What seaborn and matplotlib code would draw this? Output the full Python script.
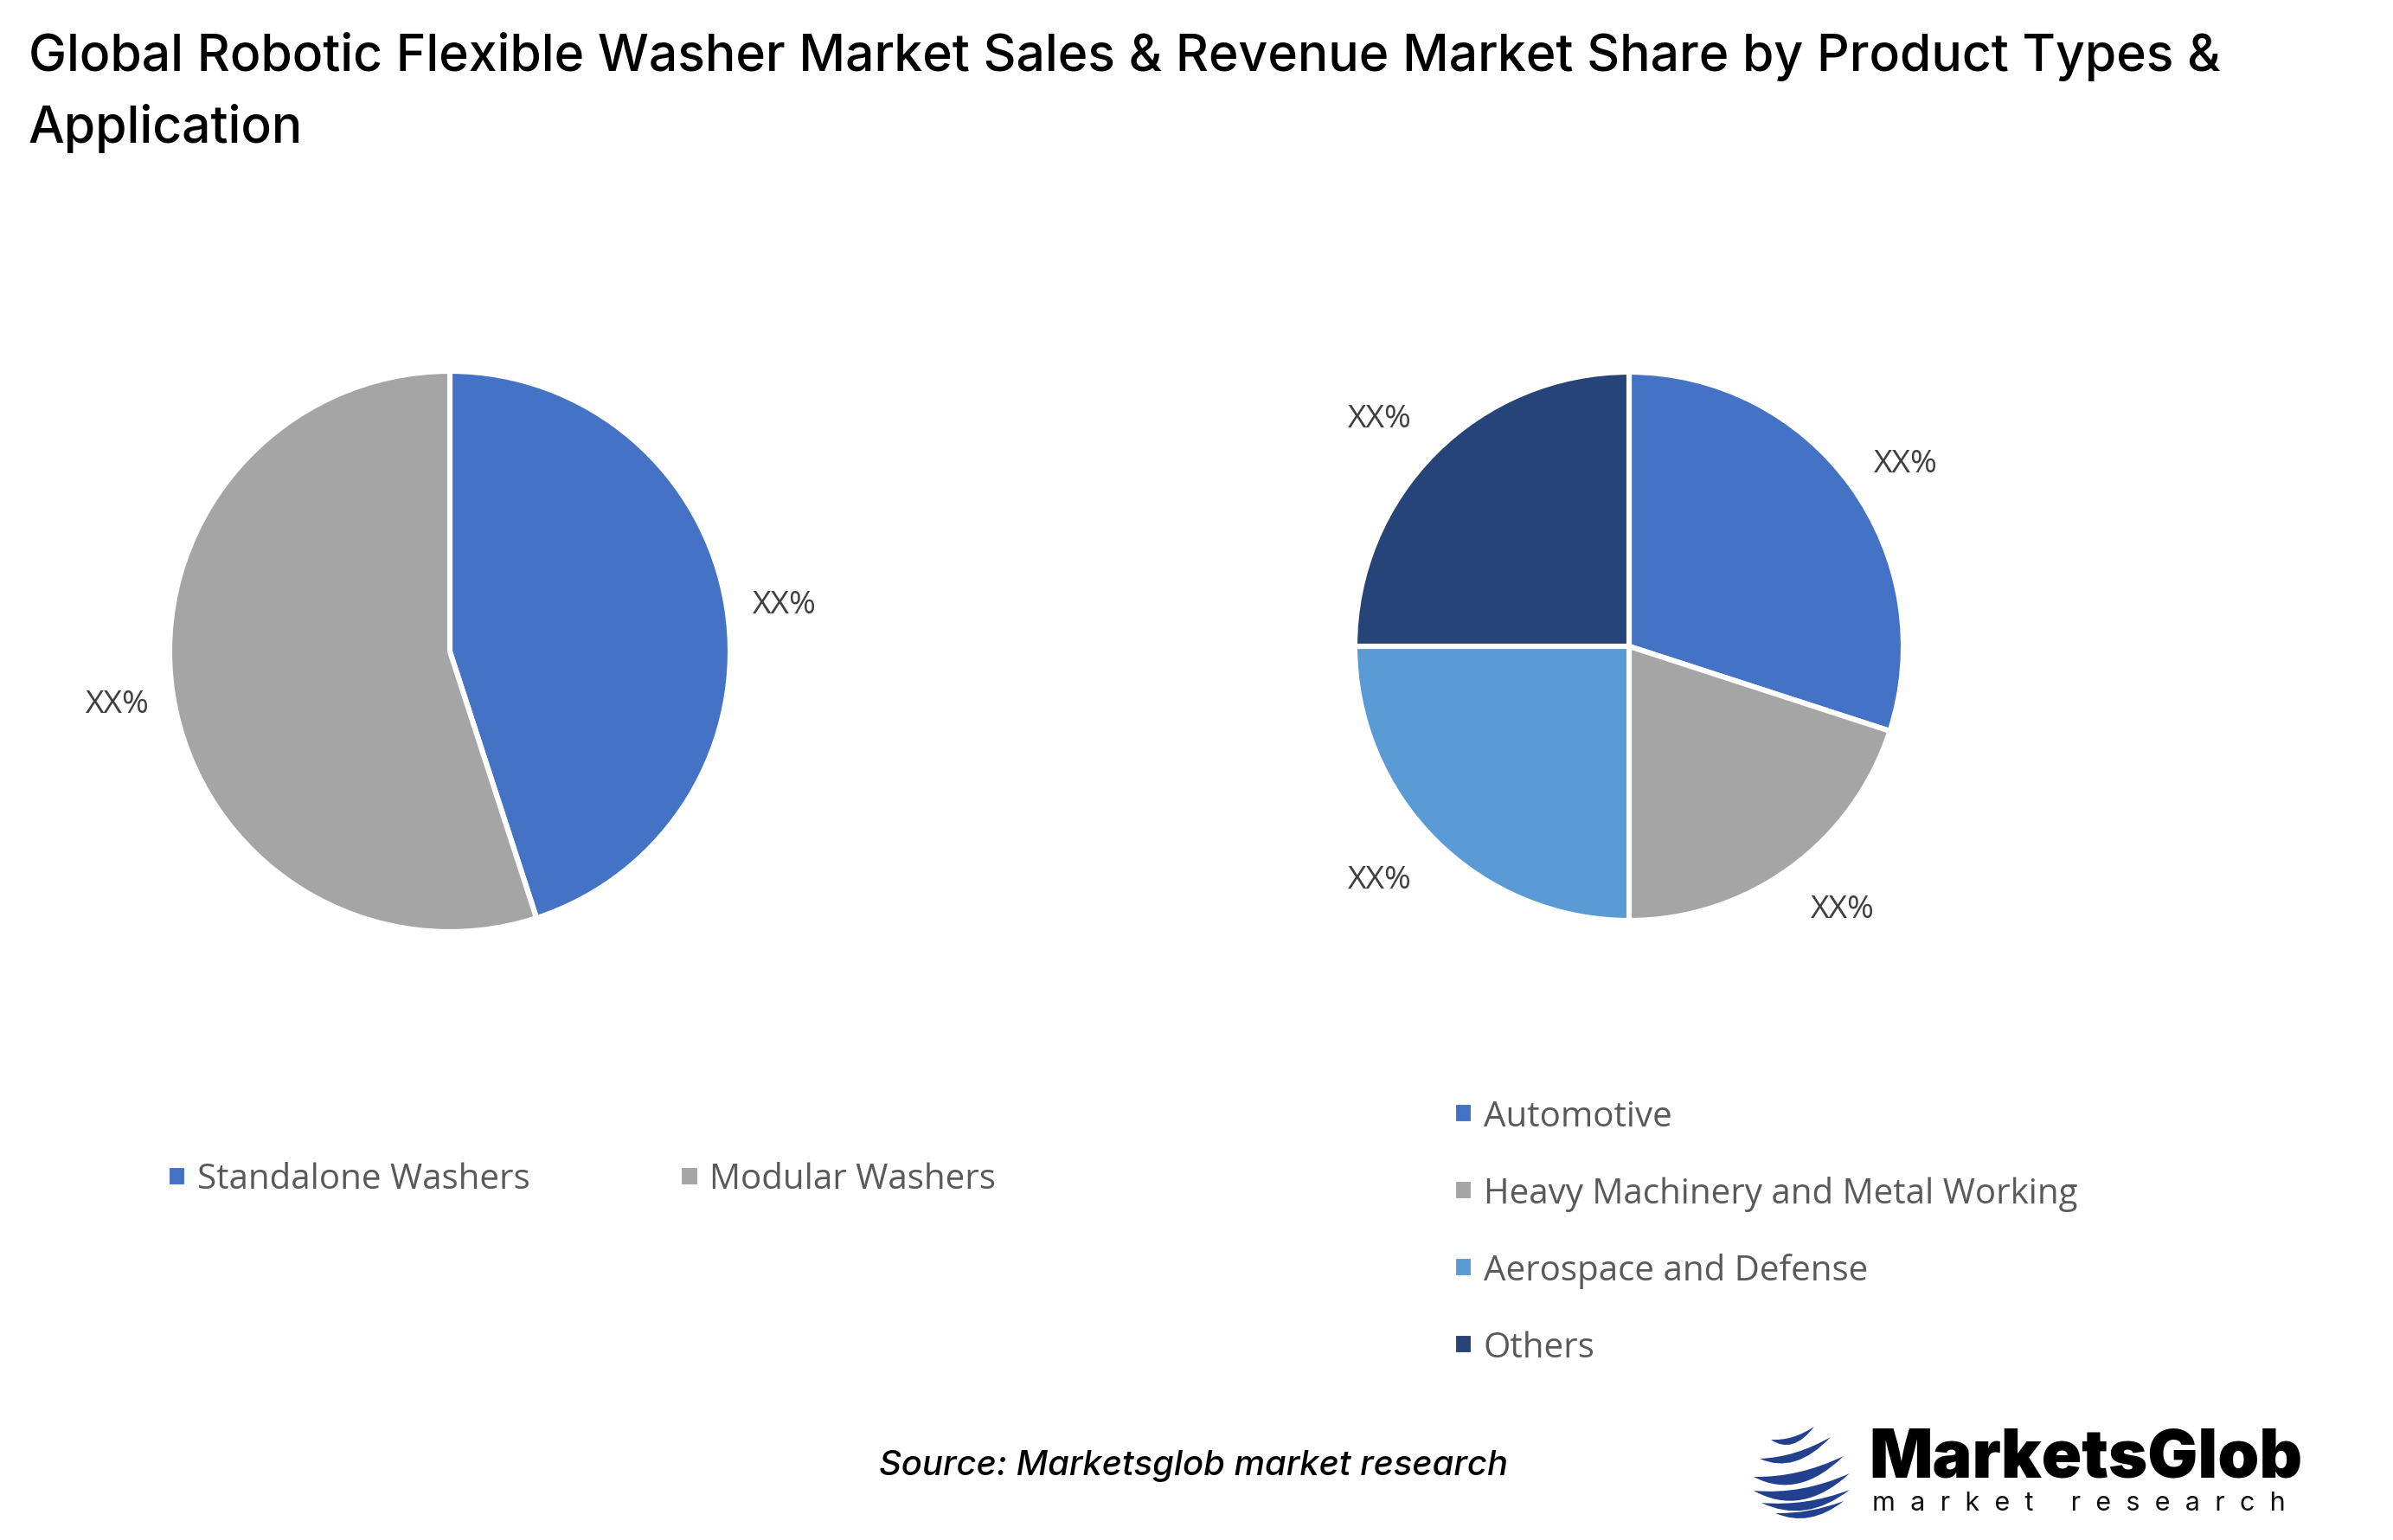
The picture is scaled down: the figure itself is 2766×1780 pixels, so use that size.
import matplotlib
matplotlib.use('Agg')
import matplotlib.pyplot as plt
from matplotlib.path import Path
from matplotlib.patches import PathPatch
import seaborn as sns

W, H = 2766, 1781
DPI = 200

title_text = 'Global Robotic Flexible Washer Market Sales & Revenue Market Share by Product Types &\nApplication'
source_text = 'Source: Marketsglob market research'

product_types = ['Standalone Washers', 'Modular Washers']
product_values = [45, 55]
product_colors = ['#4472C4', '#A5A5A5']

applications = ['Automotive', 'Heavy Machinery and Metal Working', 'Aerospace and Defense', 'Others']
application_values = [30, 20, 25, 25]
application_colors = ['#4472C4', '#A5A5A5', '#5B9BD5', '#264478']

LABEL_FONT = 'Open Sans'
TITLE_FONT = 'Inter'

sns.set_theme(style='white', rc={'figure.facecolor': 'white', 'savefig.facecolor': 'white'})
plt.rcParams['font.family'] = [LABEL_FONT, 'DejaVu Sans']


def pie_axes(fig, cx, cy, r):
    # pixel position -> figure fraction
    return fig.add_axes([(cx - r) / W, 1 - (cy + r) / H, 2 * r / W, 2 * r / H])


def draw_pie(ax, values, colors, dist, nudges):
    wedges, _, pct = ax.pie(values, colors=sns.color_palette(colors), startangle=90, counterclock=False,
                            autopct=lambda p: 'XX%', pctdistance=dist, radius=1,
                            wedgeprops={'edgecolor': 'white', 'linewidth': 2.2},
                            textprops={'fontsize': 13.4, 'color': '#404040'})
    ax.set_xlim(-1, 1)
    ax.set_ylim(-1, 1)
    # the labels in the original sit a little off the slice midlines
    for t, (dx, dy) in zip(pct, nudges):
        x, y = t.get_position()
        t.set_position((x + dx, y + dy))
        t.set_clip_on(False)
    return wedges


fig = plt.figure(figsize=(W / DPI, H / DPI), dpi=DPI)

ax1 = pie_axes(fig, 520, 754, 324)
wedges1 = draw_pie(ax1, product_values, product_colors, 1.21, [(0, -0.022), (0.008, 0)])

ax2 = pie_axes(fig, 1883, 748, 317)
wedges2 = draw_pie(ax2, application_values, application_colors, 1.22,
                   [(0.022, -0.05), (0.061, 0.028), (-0.045, 0.011), (-0.045, -0.034)])

legend_style = dict(frameon=False, fontsize=14.5, labelcolor='#595959', handlelength=0.58, handleheight=0.58,
                    handletextpad=0.28, borderpad=0, borderaxespad=0)

fig.legend(wedges1, product_types, loc='center left', bbox_to_anchor=(193 / W, 1 - 1364 / H), ncols=2,
           columnspacing=4.3, **legend_style)
fig.legend(wedges2, applications, loc='center left', bbox_to_anchor=(1680 / W, 1 - 1425 / H), ncols=1,
           labelspacing=1.2, **legend_style)

# overlay in pixel coordinates for title, source and logo
ov = fig.add_axes([0, 0, 1, 1], facecolor='none')
ov.set_xlim(0, W)
ov.set_ylim(H, 0)
ov.axis('off')

ov.text(33, 107, title_text, fontsize=21.2, fontweight='medium', family=TITLE_FONT, color='black',
        va='center', ha='left', linespacing=1.58)
ov.text(1016, 1695, source_text, fontsize=14.4, fontstyle='italic', fontweight='medium', family=TITLE_FONT,
        color='black', va='center', ha='left')

ov.text(2160, 1687, 'MarketsGlob', fontsize=27.7, fontweight='black', family=TITLE_FONT, color='black',
        va='center', ha='left')
ov.text(2164, 1738, 'm  a  r  k  e  t     r  e  s  e  a  r  c  h', fontsize=11, family=TITLE_FONT,
        color='#111111', va='center', ha='left')

# globe stripes: left end, right end, sag, thickness
globe_bands = [
    ((2047, 1665), (2097, 1650), 9, 8),
    ((2034, 1687), (2116, 1662), 11, 10),
    ((2027, 1708), (2131, 1684), 13, 13),
    ((2027, 1724), (2138, 1704), 15, 13),
    ((2036, 1738), (2138, 1723), 12, 10),
    ((2052, 1750), (2131, 1736), 8, 8),
]
for (x0, y0), (x1, y1), sag, thick in globe_bands:
    mx, my = (x0 + x1) / 2, (y0 + y1) / 2
    verts = [(x0, y0), (mx, my + sag), (x1, y1), (mx, my + sag + 2 * thick), (x0, y0)]
    codes = [Path.MOVETO, Path.CURVE3, Path.CURVE3, Path.CURVE3, Path.CURVE3]
    ov.add_patch(PathPatch(Path(verts, codes), facecolor='#23408E', edgecolor='none'))

fig.savefig('out.png', dpi=DPI)
